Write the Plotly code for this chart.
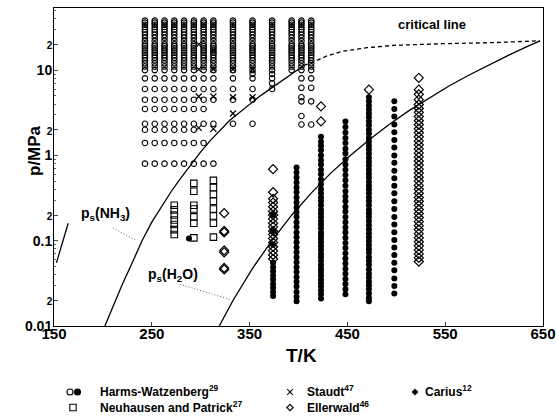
import math
import plotly.graph_objects as go

# ---------------- data ----------------
# Harms-Watzenberg, open circles: isotherm temperatures (K)
HW_OPEN_T = [243, 253, 263, 273, 283, 293, 303, 313, 333, 353, 373, 393, 403, 413]
# high-pressure grid measured on the isotherms (MPa)
HW_HIGH_P = [10, 11, 12, 13, 14, 15, 16, 17, 18, 19, 20, 22, 24, 26, 28, 30, 32, 34, 36, 38]
# additional lower pressures for each isotherm (MPa)
HW_LOW_P = [
    [8, 6, 4.5, 3.5, 2.35, 2.0, 1.4, 0.8],
    [8, 6, 4.5, 3.5, 2.35, 2.0, 1.4, 0.8],
    [8, 6, 4.5, 3.5, 2.35, 2.0, 1.4, 0.8],
    [8, 6, 4.5, 3.5, 2.35, 2.0, 1.4, 0.8],
    [8, 6, 4.5, 3.5, 2.35, 2.0, 1.4, 0.8],
    [8, 6, 4.5, 3.5, 2.35, 2.0, 1.4, 0.8],
    [8, 6, 4.5, 3.5, 2.35, 1.4, 0.8],
    [8, 6, 4.5, 2.35, 0.8],
    [8, 6, 4.5, 2.35],
    [9, 8, 6, 4.5, 2.35],
    [9, 8, 7, 6],
    [],
    [8, 6.2, 4.8, 4.3, 2.9, 2.3],
    [8, 6.2, 4.3, 2.3],
]

# Harms-Watzenberg, filled circles
HW_FILLED_T = [288, 374, 398, 423, 448, 472]
HW_FILLED_P = [
    [0.106],
    [0.2, 0.13, 0.09, 0.055, 0.049, 0.0438, 0.039, 0.035, 0.031, 0.028, 0.025, 0.0224],
    [0.72, 0.63, 0.55, 0.48, 0.42, 0.37, 0.32, 0.28, 0.245, 0.215, 0.19, 0.165, 0.145,
     0.125, 0.11, 0.096, 0.084, 0.073, 0.064, 0.056, 0.049, 0.043, 0.0375, 0.033,
     0.029, 0.025, 0.022, 0.0195],
    [1.65, 1.45, 1.3, 1.15, 1.0, 0.88, 0.78, 0.68, 0.6, 0.52, 0.46, 0.4, 0.36, 0.32,
     0.29, 0.26, 0.23, 0.21, 0.19, 0.17, 0.155, 0.14, 0.125, 0.115, 0.105, 0.095,
     0.086, 0.078, 0.07, 0.064, 0.058, 0.052, 0.047, 0.043, 0.039, 0.035, 0.032,
     0.029, 0.026, 0.0235, 0.021],
    [2.5, 2.15, 1.85, 1.6, 1.4, 1.2, 1.05, 0.9, 0.78, 0.68, 0.59, 0.51, 0.44, 0.38,
     0.33, 0.29, 0.25, 0.22, 0.19, 0.165, 0.143, 0.125, 0.108, 0.094, 0.082, 0.071,
     0.062, 0.054, 0.047, 0.041, 0.0355, 0.031, 0.027, 0.0235],
    [4.8, 4.3, 3.85, 3.45, 3.1, 2.8, 2.5, 2.25, 2.0, 1.8, 1.6, 1.45, 1.3, 1.17, 1.05,
     0.94, 0.84, 0.76, 0.68, 0.61, 0.55, 0.49, 0.44, 0.4, 0.36, 0.32, 0.29, 0.26,
     0.23, 0.21, 0.19, 0.17, 0.152, 0.136, 0.122, 0.11, 0.099, 0.089, 0.08, 0.072,
     0.064, 0.058, 0.052, 0.046, 0.041, 0.037, 0.033, 0.03, 0.027, 0.024, 0.0215,
     0.0195],
]

# Carius
CARIUS_T = [498]
CARIUS_P = [[4.3, 3.5, 2.85, 2.3, 1.87, 1.52, 1.24, 1.0, 0.82, 0.66, 0.54, 0.44, 0.36,
             0.29, 0.235, 0.19, 0.155, 0.126, 0.102, 0.083, 0.068, 0.055, 0.045, 0.036,
             0.0295, 0.024]]

# Ellerwald, open diamonds
ELL_T = [324, 374, 423, 472, 523]
ELL_P = [
    [0.21, 0.13, 0.125, 0.077, 0.073, 0.048, 0.046],
    [0.69, 0.37, 0.31, 0.28, 0.25, 0.22, 0.2, 0.18, 0.16, 0.145, 0.13, 0.118, 0.106,
     0.095, 0.085, 0.076, 0.068, 0.061],
    [3.75, 2.5],
    [5.9],
    [8.1, 5.9, 5.2, 4.5, 3.95, 3.55, 3.2, 2.85, 2.55, 2.3, 2.05, 1.85, 1.65, 1.48,
     1.33, 1.19, 1.07, 0.96, 0.86, 0.77, 0.69, 0.62, 0.555, 0.5, 0.445, 0.4, 0.36,
     0.32, 0.29, 0.26, 0.232, 0.208, 0.187, 0.167, 0.15, 0.135, 0.121, 0.108, 0.097,
     0.087, 0.078, 0.07, 0.063, 0.057],
]

# Neuhausen and Patrick, open squares
NP_T = [273, 293, 313]
NP_P = [
    [0.26, 0.23, 0.2, 0.175, 0.155, 0.135, 0.118],
    [0.47, 0.38, 0.26, 0.235, 0.19, 0.16, 0.108],
    [0.51, 0.42, 0.35, 0.29, 0.235, 0.195, 0.16, 0.11],
]

# Staudt, crosses
ST_T = [298, 298, 298, 298, 313, 313, 313, 313, 333, 333, 333, 353, 353]
ST_P = [2.1, 4.9, 10.2, 20, 2.05, 4.9, 10.2, 17, 3.1, 4.8, 10.2, 4.8, 10.2]

# vapour pressure curves and critical line
NH3_T = [202, 210, 220, 230, 240, 250, 260, 270, 280, 290, 300, 310, 320, 330, 340,
         350, 360, 370, 380, 390, 400, 405.5]
NH3_P = [0.010, 0.0165, 0.031, 0.055, 0.10, 0.165, 0.255, 0.38, 0.55, 0.78, 1.1, 1.5,
         2.0, 2.6, 3.2, 4.0, 4.9, 5.9, 7.1, 8.5, 10.2, 11.33]
H2O_T = [319, 333, 353, 373, 393, 413, 433, 453, 473, 493, 513, 533, 553, 573, 593,
         613, 633, 647]
H2O_P = [0.0100, 0.0199, 0.0474, 0.101, 0.199, 0.361, 0.62, 1.00, 1.55, 2.32, 3.35,
         4.69, 6.42, 8.59, 11.29, 14.6, 18.7, 22.06]
CRIT_T = [405.5, 415, 430, 446, 470, 497, 548, 600, 647]
CRIT_P = [11.33, 12.4, 14.8, 16.7, 18.3, 19.5, 20.4, 21.0, 22.06]
LEFT_T = [152.5, 158, 164.5]
LEFT_P = [0.055, 0.09, 0.16]
# label leader lines
NH3_LEAD_T = [210.4, 234.3]
NH3_LEAD_P = [0.141, 0.1]
H2O_LEAD_T = [278.8, 330]
H2O_LEAD_P = [0.0308, 0.0205]

X_TICKS = [150, 250, 350, 450, 550, 650]
Y_TICKS = [0.01, 0.02, 0.1, 0.2, 1, 2, 10, 20]
Y_TICKTEXT = ["0.01", "2", "0.1", "2", "1", "2", "10", "2"]


def flatten(ts, ps):
    xs, ys = [], []
    for t, plist in zip(ts, ps):
        for p in plist:
            xs.append(t)
            ys.append(p)
    return xs, ys


FONT = "Liberation Sans, Arial, sans-serif"
fig = go.Figure()

# curves
fig.add_trace(go.Scatter(x=NH3_T, y=NH3_P, mode="lines", line=dict(color="black", width=1.3)))
fig.add_trace(go.Scatter(x=H2O_T, y=H2O_P, mode="lines", line=dict(color="black", width=1.3)))
fig.add_trace(go.Scatter(x=LEFT_T, y=LEFT_P, mode="lines", line=dict(color="black", width=1.3)))
fig.add_trace(go.Scatter(x=CRIT_T, y=CRIT_P, mode="lines",
                         line=dict(color="black", width=1.3, dash="4px,3px")))
fig.add_trace(go.Scatter(x=NH3_LEAD_T, y=NH3_LEAD_P, mode="lines",
                         line=dict(color="#555", width=0.9, dash="1px,2px")))
fig.add_trace(go.Scatter(x=H2O_LEAD_T, y=H2O_LEAD_P, mode="lines",
                         line=dict(color="#555", width=0.9, dash="1px,2px")))

# markers
hx, hy = flatten(HW_OPEN_T, [HW_HIGH_P + low for low in HW_LOW_P])
fig.add_trace(go.Scatter(x=hx, y=hy, mode="markers",
                         marker=dict(symbol="circle-open", size=5.5, color="black",
                                     line=dict(width=1.1, color="black"))))
fx, fy = flatten(HW_FILLED_T, HW_FILLED_P)
fig.add_trace(go.Scatter(x=fx, y=fy, mode="markers",
                         marker=dict(symbol="circle", size=6, color="black")))
cx, cy = flatten(CARIUS_T, CARIUS_P)
fig.add_trace(go.Scatter(x=cx, y=cy, mode="markers",
                         marker=dict(symbol="circle", size=6, color="black")))
ex, ey = flatten(ELL_T, ELL_P)
fig.add_trace(go.Scatter(x=ex, y=ey, mode="markers",
                         marker=dict(symbol="diamond-open", size=7, color="black",
                                     line=dict(width=1.2, color="black"))))
nx, ny = flatten(NP_T, NP_P)
fig.add_trace(go.Scatter(x=nx, y=ny, mode="markers",
                         marker=dict(symbol="square-open", size=6.5, color="black",
                                     line=dict(width=1.1, color="black"))))
fig.add_trace(go.Scatter(x=ST_T, y=ST_P, mode="markers",
                         marker=dict(symbol="x-thin-open", size=6, color="black",
                                     line=dict(width=1.2, color="black"))))

# ---------------- layout ----------------
W, H = 556, 419
ML, MR, MT, MB = 54, 13, 8, 93
PW, PH = W - ML - MR, H - MT - MB


def px2paper(px, py):
    return (px - ML) / PW, (H - MB - py) / PH


annotations = []
shapes = []

# axis titles
ax_, ay_ = px2paper(34, 151)
annotations.append(dict(text="<b>p/MPa</b>", x=ax_, y=ay_, xref="paper", yref="paper",
                        xanchor="center", yanchor="middle",
                        textangle=-90, showarrow=False, font=dict(size=17, family=FONT)))
ax_, ay_ = px2paper(301, 355)
annotations.append(dict(text="<b>T/K</b>", x=ax_, y=ay_, xref="paper", yref="paper",
                        xanchor="center", yanchor="middle",
                        showarrow=False, font=dict(size=19, family=FONT)))

# in-plot labels
annotations.append(dict(text="<b>critical line</b>", x=537, y=math.log10(34.4), xref="x", yref="y",
                        showarrow=False, font=dict(size=13, family=FONT)))
annotations.append(dict(text="<b>p<sub>s</sub>(NH<sub>3</sub>)</b>", x=203, y=math.log10(0.205),
                        xref="x", yref="y", showarrow=False, font=dict(size=14, family=FONT)))
annotations.append(dict(text="<b>p<sub>s</sub>(H<sub>2</sub>O)</b>", x=272, y=math.log10(0.0395),
                        xref="x", yref="y", showarrow=False, font=dict(size=14, family=FONT)))

# legend
legend_text = [
    ("<b>Harms-Watzenberg<sup>29</sup></b>", 98, 391),
    ("<b>Staudt<sup>47</sup></b>", 305, 391),
    ("<b>Carius<sup>12</sup></b>", 423, 391),
    ("<b>Neuhausen and Patrick<sup>27</sup></b>", 98, 407),
    ("<b>Ellerwald<sup>46</sup></b>", 305, 407),
]
for txt, px, py in legend_text:
    ax_, ay_ = px2paper(px, py)
    annotations.append(dict(text=txt, x=ax_, y=ay_, xref="paper", yref="paper",
                            xanchor="left", yanchor="middle", showarrow=False,
                            font=dict(size=12, family=FONT)))


def sym(kind, px, py, r=3.0, fill=False, lw=1.1):
    xa, ya = px2paper(px, py)
    base = dict(xref="paper", yref="paper", xsizemode="pixel", ysizemode="pixel",
                xanchor=xa, yanchor=ya, line=dict(color="black", width=lw),
                fillcolor="black" if fill else "rgba(0,0,0,0)")
    if kind == "circle":
        base.update(type="circle", x0=-r, x1=r, y0=-r, y1=r)
    elif kind == "square":
        base.update(type="rect", x0=-r, x1=r, y0=-r, y1=r)
    elif kind == "diamond":
        base.update(type="path", path=f"M 0 {r} L {r} 0 L 0 {-r} L {-r} 0 Z")
    elif kind == "x":
        base.update(type="path", path=f"M {-r} {-r} L {r} {r} M {-r} {r} L {r} {-r}")
    shapes.append(base)


sym("circle", 70, 392, 3)
sym("circle", 77.5, 392, 3, fill=True)
sym("square", 73, 407.5, 3.2)
sym("x", 290, 392, 2.8)
sym("diamond", 290, 407.5, 3.2)
sym("diamond", 415, 392, 2.6, fill=True)

fig.update_layout(
    width=W, height=H, margin=dict(l=ML, r=MR, t=MT, b=MB, autoexpand=False),
    paper_bgcolor="white", plot_bgcolor="white", showlegend=False,
    annotations=annotations, shapes=shapes,
    font=dict(family=FONT, color="black"),
    xaxis=dict(range=[150, 650], tickvals=X_TICKS, ticks="inside", ticklen=4,
               automargin=False,
               showline=True, mirror=True, linecolor="black", linewidth=1,
               showgrid=False, zeroline=False,
               tickfont=dict(size=15, family=FONT, weight="bold"), ticklabelstandoff=-6),
    yaxis=dict(type="log", range=[-2, 1.728], tickvals=Y_TICKS, automargin=False,
               ticktext=[("<span style='font-size:10px'>%s</span>" % t) if t == "2" else t
                         for t in Y_TICKTEXT],
               ticks="inside", ticklen=4, ticklabelstandoff=-2,
               showline=True, mirror=True, linecolor="black", linewidth=1,
               showgrid=False, zeroline=False,
               tickfont=dict(size=14, family=FONT, weight="bold"),
               minor=dict(ticks="inside", ticklen=2, tickcolor="#666",
                          tickvals=[0.03, 0.04, 0.05, 0.06, 0.07, 0.08, 0.09,
                                    0.3, 0.4, 0.5, 0.6, 0.7, 0.8, 0.9,
                                    3, 4, 5, 6, 7, 8, 9, 30, 40, 50])),
)

fig.write_html("out.html", config={"displayModeBar": False},
               post_script="document.body.style.margin='0';document.body.style.overflow='hidden';")
